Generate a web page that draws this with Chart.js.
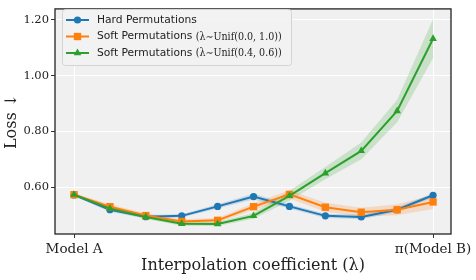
<!DOCTYPE html>
<html lang="en">
<head>
<meta charset="UTF-8">
<title>Loss vs interpolation coefficient</title>
<script src="https://cdn.jsdelivr.net/npm/chart.js@4/dist/chart.umd.min.js"></script>
<style>
  html, body { margin: 0; background: #fff; }
</style>
</head>
<body>
<canvas id="chart" width="476" height="280"></canvas>
<script>
// interpolation steps between Model A (0) and pi(Model B) (10)
const steps = [0, 1, 2, 3, 4, 5, 6, 7, 8, 9, 10];
const xTickValues = [0, 10];
const xTickLabels = ['Model A', 'π(Model B)'];
const yTickValues = [0.6, 0.8, 1.0, 1.2];

const hardLoss = [0.572, 0.519, 0.494, 0.497, 0.531, 0.566, 0.531, 0.497, 0.493, 0.519, 0.571];
const hardStd = [0.005, 0.007, 0.006, 0.006, 0.008, 0.010, 0.008, 0.008, 0.008, 0.008, 0.008];
const softWideLoss = [0.573, 0.530, 0.498, 0.477, 0.481, 0.530, 0.574, 0.528, 0.510, 0.519, 0.547];
const softWideStd = [0.005, 0.008, 0.008, 0.008, 0.008, 0.012, 0.015, 0.016, 0.016, 0.020, 0.025];
const softNarrowLoss = [0.573, 0.523, 0.493, 0.469, 0.468, 0.497, 0.569, 0.650, 0.730, 0.873, 1.132];
const softNarrowStd = [0.005, 0.007, 0.007, 0.007, 0.007, 0.010, 0.018, 0.022, 0.030, 0.040, 0.070];

const seriesNames = ['Hard Permutations', 'Soft Permutations', 'Soft Permutations'];
const seriesTags = ['', '(λ∼Unif(0.0, 1.0))', '(λ∼Unif(0.4, 0.6))'];

const colors = ['#1f77b4', '#ff7f0e', '#2ca02c'];
const bands = ['rgba(31,119,180,0.2)', 'rgba(255,127,14,0.2)', 'rgba(44,160,44,0.2)'];
const markers = [
  { style: 'circle', r: 3.6 },
  { style: 'rect', r: 5.2 },
  { style: 'triangle', r: 4.4 },
];

const means = [hardLoss, softWideLoss, softNarrowLoss];
const stds = [hardStd, softWideStd, softNarrowStd];

const pts = (ys) => steps.map((x, i) => ({ x: x, y: ys[i] }));

const datasets = [];
means.forEach((m, k) => {
  datasets.push({
    label: seriesNames[k] + ' ' + seriesTags[k],
    data: pts(m),
    borderColor: colors[k],
    backgroundColor: colors[k],
    borderWidth: 2,
    pointStyle: markers[k].style,
    pointRadius: markers[k].r,
    pointBorderWidth: 0,
    fill: false,
    order: 3 - k,
  });
});
means.forEach((m, k) => {
  const up = m.map((v, i) => v + stds[k][i]);
  const lo = m.map((v, i) => v - stds[k][i]);
  datasets.push({
    data: pts(up), borderWidth: 0, pointRadius: 0,
    backgroundColor: bands[k], fill: '+1', order: 10 + k,
  });
  datasets.push({
    data: pts(lo), borderWidth: 0, pointRadius: 0,
    backgroundColor: bands[k], fill: false, order: 10 + k,
  });
});

const frame = {
  id: 'frame',
  beforeDraw(chart) {
    const { ctx, chartArea: a } = chart;
    ctx.save();
    ctx.fillStyle = '#f0f0f0';
    ctx.fillRect(a.left, a.top, a.right - a.left, a.bottom - a.top);
    ctx.restore();
  },
  afterDraw(chart) {
    const { ctx, chartArea: a } = chart;
    ctx.save();
    ctx.strokeStyle = '#222';
    ctx.lineWidth = 1.3;
    ctx.strokeRect(a.left, a.top, a.right - a.left, a.bottom - a.top);

    // legend box
    const bx = 62, by = 9, bw = 229, bh = 56;
    ctx.beginPath();
    ctx.roundRect(bx + 0.5, by + 0.5, bw, bh, 3);
    ctx.fillStyle = 'rgba(242,242,242,0.85)';
    ctx.fill();
    ctx.strokeStyle = '#d4d4d4';
    ctx.lineWidth = 1;
    ctx.stroke();

    seriesNames.forEach((name, k) => {
      const y = 20 + k * 16.5;
      ctx.strokeStyle = colors[k];
      ctx.lineWidth = 2;
      ctx.beginPath();
      ctx.moveTo(66, y);
      ctx.lineTo(89, y);
      ctx.stroke();
      ctx.fillStyle = colors[k];
      Chart.helpers.drawPoint(ctx, { pointStyle: markers[k].style, radius: markers[k].r, rotation: 0, borderWidth: 0 }, 77.5, y);
      ctx.fillStyle = '#222';
      ctx.textBaseline = 'middle';
      ctx.font = '10.7px "DejaVu Sans"';
      ctx.fillText(name, 97, y);
      if (seriesTags[k]) {
        const w = ctx.measureText(name + ' ').width;
        ctx.font = '10.5px "DejaVu Serif"';
        ctx.fillText(seriesTags[k], 97 + w, y + 0.5, 86);
      }
    });
    ctx.restore();
  }
};

const serif = '"DejaVu Serif", serif';

new Chart(document.getElementById('chart'), {
  type: 'line',
  data: { datasets: datasets },
  plugins: [frame],
  options: {
    responsive: false,
    animation: false,
    layout: { padding: { top: 4, right: 25, left: 0, bottom: 0 } },
    plugins: { legend: { display: false }, tooltip: { enabled: false }, filler: { propagate: false } },
    scales: {
      x: {
        type: 'linear', min: -0.53, max: 10.5,
        afterBuildTicks: (s) => { s.ticks = xTickValues.map((v) => ({ value: v })); },
        afterFit: (s) => { s.height = 46; },
        ticks: {
          color: '#222', font: { family: serif, size: 13.5 }, padding: 3,
          callback: (v) => xTickLabels[xTickValues.indexOf(v)],
          maxRotation: 0, autoSkip: false,
        },
        grid: { color: '#ffffff', lineWidth: 1, tickColor: '#333', tickLength: 4 },
        border: { display: false },
        title: { display: true, text: 'Interpolation coefficient (λ)', color: '#222',
          font: { family: serif, size: 16 }, padding: { top: 0, bottom: 5 } },
      },
      y: {
        type: 'linear', min: 0.432, max: 1.239,
        afterBuildTicks: (s) => { s.ticks = yTickValues.map((v) => ({ value: v })); },
        afterFit: (s) => { s.width = 55; },
        ticks: { color: '#222', font: { family: serif, size: 11.5 }, padding: 2,
          callback: (v) => v.toFixed(2) },
        grid: { color: '#ffffff', lineWidth: 1, tickColor: '#333', tickLength: 4 },
        border: { display: false },
        title: { display: true, text: 'Loss ↓', color: '#222',
          font: { family: serif, size: 16 }, padding: { top: 2, bottom: 0 } },
      },
    },
  },
});
</script>
</body>
</html>
